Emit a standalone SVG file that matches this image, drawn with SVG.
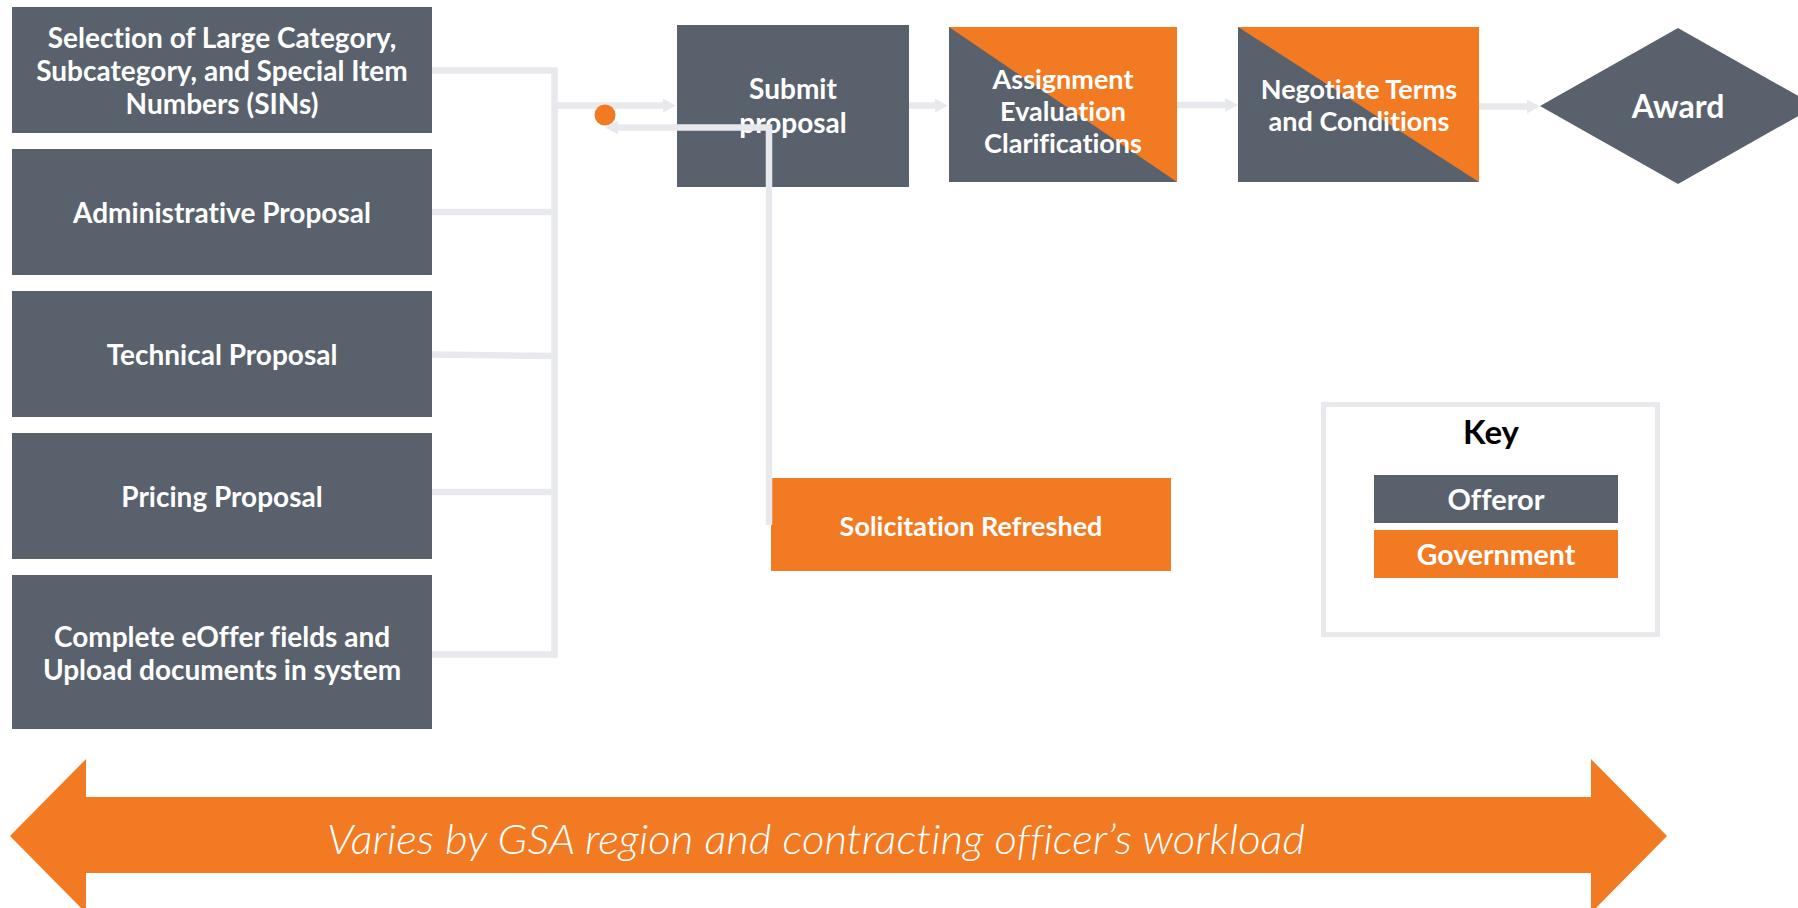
<svg xmlns="http://www.w3.org/2000/svg" width="1798" height="908" viewBox="0 0 1798 908">
  <style>
    .offeror { fill: #59626C; }
    .gov { fill: #F17A22; }
    .lbl { font-family: Lato, "Liberation Sans", sans-serif; font-weight: 700; font-size: 28px; fill: #FFFFFF; text-anchor: middle; font-variant-ligatures: none; font-feature-settings: "liga" 0; }
    .conn { fill: none; stroke: #E8E9ED; stroke-width: 6.5; stroke-linejoin: miter; }
    .arrow { marker-end: url(#head); }
  </style>
  <defs>
    <marker id="head" markerUnits="userSpaceOnUse" viewBox="0 0 13 14" markerWidth="13" markerHeight="14" refX="0.5" refY="7" orient="auto">
      <path d="M0,0 L13,7 L0,14 Z" fill="#E8E9ED"/>
    </marker>
  </defs>
  <rect width="1798" height="908" fill="#FFFFFF"/>

  <!-- proposal components -->
  <g id="node-selection">
    <rect class="offeror" x="12" y="7" width="420" height="126"/>
    <text class="lbl" x="222" y="48">Selection of Large Category,</text>
    <text class="lbl" x="222" y="81">Subcategory, and Special Item</text>
    <text class="lbl" x="222" y="114">Numbers (SINs)</text>
  </g>
  <g id="node-administrative">
    <rect class="offeror" x="12" y="149" width="420" height="126"/>
    <text class="lbl" x="222" y="223">Administrative Proposal</text>
  </g>
  <g id="node-technical">
    <rect class="offeror" x="12" y="291" width="420" height="126"/>
    <text class="lbl" x="222" y="365">Technical Proposal</text>
  </g>
  <g id="node-pricing">
    <rect class="offeror" x="12" y="433" width="420" height="126"/>
    <text class="lbl" x="222" y="507">Pricing Proposal</text>
  </g>
  <g id="node-eoffer">
    <rect class="offeror" x="12" y="575" width="420" height="154"/>
    <text class="lbl" x="222" y="647">Complete eOffer fields and</text>
    <text class="lbl" x="222" y="680">Upload documents in system</text>
  </g>

  <!-- main flow -->
  <g id="node-submit">
    <rect class="offeror" x="677" y="25" width="232" height="162"/>
    <text class="lbl" x="793" y="99">Submit</text>
    <text class="lbl" x="793" y="133">proposal</text>
  </g>
  <g id="node-assignment">
    <rect class="offeror" x="949" y="27" width="228" height="155"/>
    <polygon class="gov" points="949,27 1177,27 1177,182"/>
    <text class="lbl" x="1063" y="89" style="font-size:27px">Assignment</text>
    <text class="lbl" x="1063" y="121" style="font-size:27px">Evaluation</text>
    <text class="lbl" x="1063" y="153" style="font-size:27px">Clarifications</text>
  </g>
  <g id="node-negotiate">
    <rect class="offeror" x="1238" y="27" width="241" height="155"/>
    <polygon class="gov" points="1238,27 1479,27 1479,182"/>
    <text class="lbl" x="1359" y="99" style="font-size:27px">Negotiate Terms</text>
    <text class="lbl" x="1359" y="131" style="font-size:27px">and Conditions</text>
  </g>
  <g id="node-award">
    <polygon class="offeror" points="1540,106 1678,28 1816,106 1678,184"/>
    <text class="lbl" x="1678" y="118" style="font-size:32px">Award</text>
  </g>
  <g id="node-solicitation">
    <rect class="gov" x="771" y="478" width="400" height="93"/>
    <text class="lbl" x="971" y="536" style="font-size:27px">Solicitation Refreshed</text>
  </g>

  <!-- legend -->
  <g id="key">
    <rect x="1323.5" y="404.5" width="334" height="230" fill="#FFFFFF" stroke="#E8E9ED" stroke-width="5"/>
    <text x="1491" y="444" style="font-family: Lato, 'Liberation Sans', sans-serif; font-weight: 700; font-size: 33px; fill: #000000; text-anchor: middle;">Key</text>
    <rect class="offeror" x="1374" y="475" width="244" height="48"/>
    <text class="lbl" x="1496" y="510" style="font-size:29px">Offeror</text>
    <rect class="gov" x="1374" y="530" width="244" height="48"/>
    <text class="lbl" x="1496" y="565" style="font-size:28.5px">Government</text>
  </g>

  <!-- timeline band -->
  <g id="timeline">
    <polygon class="gov" points="10,836 86,759 86,797 1591,797 1591,759 1667,836 1591,913 1591,873 86,873 86,913"/>
    <text x="327" y="854" textLength="978" lengthAdjust="spacingAndGlyphs" style="font-family: Lato, 'Liberation Sans', sans-serif; font-style: italic; font-weight: 300; font-size: 41px; fill: #FFFFFF; font-variant-ligatures: none; font-feature-settings: 'liga' 0;">Varies by GSA region and contracting officer’s workload</text>
  </g>

  <!-- connectors -->
  <g id="connectors">
    <path class="conn" d="M432,70.5 H554.5 V654.5 H432"/>
    <path class="conn" d="M432,212 H554.5"/>
    <path class="conn" d="M432,354.5 L554.5,356"/>
    <path class="conn" d="M432,492 H554.5"/>
    <path class="conn arrow" d="M554.5,105.5 H663.5"/>
    <path class="conn arrow" d="M909,105.5 H935.5"/>
    <path class="conn arrow" d="M1177,105 H1225.5"/>
    <path class="conn arrow" d="M1479,106.5 H1527.5"/>
    <path class="conn arrow" d="M769,525 V127.5 H617.5"/>
    <circle cx="605" cy="115" r="10.5" fill="#F17A22"/>
  </g>
</svg>
